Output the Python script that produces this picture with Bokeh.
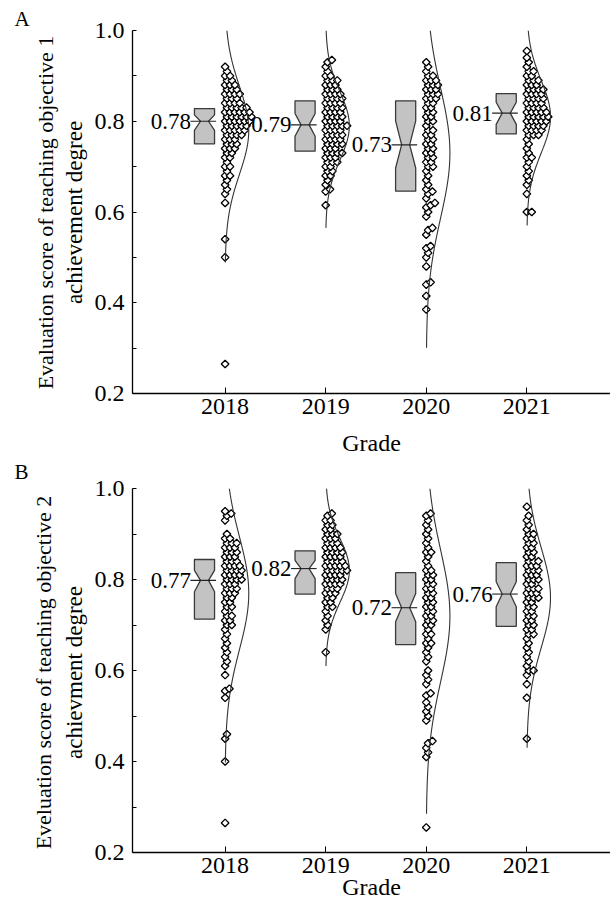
import numpy as np
from bokeh.plotting import figure
from bokeh.models import FixedTicker, Range1d, ColumnDataSource
from bokeh.layouts import column, row
from bokeh.embed import file_html
from bokeh.resources import INLINE
from bokeh.core.properties import value

# ---------------- data ----------------
grades = ["2018", "2019", "2020", "2021"]
grade_pos = [1, 2, 3, 4]

# Panel A: teaching objective 1
a_2018 = [0.265, 0.50, 0.54, 0.62, 0.64, 0.65, 0.66, 0.67, 0.68, 0.68, 0.69, 0.70, 0.70, 0.71, 0.72, 0.72,
          0.73, 0.73, 0.74, 0.74, 0.74, 0.75, 0.75, 0.75, 0.76, 0.76, 0.76, 0.77, 0.77, 0.77, 0.77, 0.78,
          0.78, 0.78, 0.78, 0.78, 0.79, 0.79, 0.79, 0.79, 0.79, 0.80, 0.80, 0.80, 0.80, 0.80, 0.80, 0.81,
          0.81, 0.81, 0.81, 0.81, 0.81, 0.82, 0.82, 0.82, 0.82, 0.82, 0.82, 0.83, 0.83, 0.83, 0.83, 0.83,
          0.84, 0.84, 0.84, 0.84, 0.85, 0.85, 0.85, 0.86, 0.86, 0.86, 0.86, 0.87, 0.87, 0.87, 0.88, 0.88,
          0.88, 0.89, 0.89, 0.90, 0.90, 0.91, 0.92]
a_2019 = [0.615, 0.645, 0.65, 0.66, 0.67, 0.68, 0.68, 0.69, 0.69, 0.70, 0.70, 0.71, 0.71, 0.71, 0.72, 0.72,
          0.72, 0.73, 0.73, 0.73, 0.73, 0.74, 0.74, 0.74, 0.75, 0.75, 0.75, 0.75, 0.76, 0.76, 0.76, 0.76,
          0.77, 0.77, 0.77, 0.77, 0.78, 0.78, 0.78, 0.78, 0.79, 0.79, 0.79, 0.79, 0.79, 0.80, 0.80, 0.80,
          0.80, 0.81, 0.81, 0.81, 0.81, 0.82, 0.82, 0.82, 0.82, 0.83, 0.83, 0.83, 0.83, 0.84, 0.84, 0.84,
          0.84, 0.85, 0.85, 0.85, 0.85, 0.86, 0.86, 0.86, 0.86, 0.87, 0.87, 0.87, 0.88, 0.88, 0.88, 0.89,
          0.89, 0.89, 0.90, 0.90, 0.91, 0.92, 0.93, 0.935]
a_2020 = [0.385, 0.415, 0.44, 0.445, 0.48, 0.50, 0.51, 0.52, 0.525, 0.55, 0.56, 0.565, 0.59, 0.60, 0.61,
          0.615, 0.62, 0.63, 0.64, 0.645, 0.65, 0.66, 0.67, 0.68, 0.69, 0.70, 0.70, 0.71, 0.71, 0.72, 0.72,
          0.73, 0.73, 0.74, 0.74, 0.75, 0.75, 0.76, 0.76, 0.77, 0.77, 0.78, 0.78, 0.79, 0.80, 0.80, 0.81,
          0.81, 0.82, 0.82, 0.83, 0.83, 0.84, 0.84, 0.85, 0.85, 0.85, 0.86, 0.86, 0.86, 0.87, 0.87, 0.87,
          0.88, 0.88, 0.88, 0.89, 0.89, 0.89, 0.90, 0.90, 0.91, 0.92, 0.93]
a_2021 = [0.60, 0.60, 0.64, 0.66, 0.67, 0.68, 0.69, 0.70, 0.71, 0.72, 0.72, 0.73, 0.74, 0.75, 0.76, 0.77,
          0.77, 0.77, 0.78, 0.78, 0.78, 0.78, 0.79, 0.79, 0.79, 0.79, 0.80, 0.80, 0.80, 0.80, 0.80, 0.81,
          0.81, 0.81, 0.81, 0.81, 0.82, 0.82, 0.82, 0.82, 0.82, 0.83, 0.83, 0.83, 0.83, 0.84, 0.84, 0.84,
          0.84, 0.85, 0.85, 0.85, 0.85, 0.86, 0.86, 0.86, 0.86, 0.87, 0.87, 0.87, 0.87, 0.88, 0.88, 0.88,
          0.89, 0.89, 0.89, 0.90, 0.90, 0.91, 0.91, 0.92, 0.93, 0.94, 0.955]
a_q1 = [0.750, 0.734, 0.646, 0.772]
a_median = [0.800, 0.792, 0.748, 0.818]
a_q3 = [0.828, 0.845, 0.845, 0.861]
a_notch_lo = [0.780, 0.767, 0.697, 0.793]
a_notch_hi = [0.814, 0.817, 0.801, 0.842]
a_mean = [0.78, 0.79, 0.73, 0.81]
a_sd = [0.097, 0.075, 0.143, 0.080]

# Panel B: teaching objective 2
b_2018 = [0.265, 0.40, 0.45, 0.46, 0.54, 0.555, 0.56, 0.59, 0.61, 0.62, 0.63, 0.64, 0.65, 0.66, 0.67, 0.68,
          0.69, 0.70, 0.70, 0.71, 0.71, 0.72, 0.72, 0.73, 0.74, 0.74, 0.75, 0.75, 0.76, 0.76, 0.77, 0.77,
          0.77, 0.78, 0.78, 0.78, 0.79, 0.79, 0.79, 0.80, 0.80, 0.80, 0.80, 0.81, 0.81, 0.81, 0.81, 0.82,
          0.82, 0.82, 0.82, 0.83, 0.83, 0.83, 0.83, 0.84, 0.84, 0.84, 0.85, 0.85, 0.85, 0.86, 0.86, 0.86,
          0.87, 0.87, 0.87, 0.88, 0.88, 0.88, 0.89, 0.89, 0.90, 0.93, 0.94, 0.945, 0.95]
b_2019 = [0.64, 0.69, 0.70, 0.71, 0.72, 0.73, 0.74, 0.74, 0.75, 0.75, 0.76, 0.76, 0.77, 0.77, 0.77, 0.78,
          0.78, 0.78, 0.79, 0.79, 0.79, 0.79, 0.80, 0.80, 0.80, 0.80, 0.81, 0.81, 0.81, 0.81, 0.82, 0.82,
          0.82, 0.82, 0.82, 0.83, 0.83, 0.83, 0.83, 0.83, 0.84, 0.84, 0.84, 0.84, 0.85, 0.85, 0.85, 0.85,
          0.86, 0.86, 0.86, 0.86, 0.87, 0.87, 0.87, 0.87, 0.88, 0.88, 0.88, 0.89, 0.89, 0.89, 0.90, 0.90,
          0.90, 0.91, 0.91, 0.92, 0.92, 0.93, 0.93, 0.94, 0.945]
b_2020 = [0.255, 0.41, 0.42, 0.43, 0.44, 0.445, 0.49, 0.50, 0.51, 0.52, 0.53, 0.545, 0.55, 0.57, 0.58, 0.59,
          0.60, 0.62, 0.63, 0.64, 0.65, 0.66, 0.66, 0.67, 0.68, 0.68, 0.69, 0.70, 0.70, 0.71, 0.71, 0.72,
          0.72, 0.73, 0.73, 0.74, 0.74, 0.75, 0.75, 0.76, 0.76, 0.77, 0.77, 0.78, 0.78, 0.79, 0.79, 0.80,
          0.80, 0.81, 0.81, 0.82, 0.82, 0.83, 0.84, 0.85, 0.86, 0.86, 0.87, 0.88, 0.89, 0.90, 0.91, 0.92,
          0.93, 0.94, 0.945]
b_2021 = [0.45, 0.54, 0.57, 0.59, 0.60, 0.60, 0.61, 0.62, 0.63, 0.64, 0.65, 0.66, 0.67, 0.68, 0.68, 0.69,
          0.69, 0.70, 0.70, 0.71, 0.71, 0.72, 0.72, 0.73, 0.73, 0.74, 0.74, 0.75, 0.75, 0.76, 0.76, 0.76,
          0.77, 0.77, 0.77, 0.78, 0.78, 0.78, 0.79, 0.79, 0.80, 0.80, 0.80, 0.81, 0.81, 0.81, 0.82, 0.82,
          0.82, 0.83, 0.83, 0.83, 0.84, 0.84, 0.84, 0.85, 0.85, 0.86, 0.86, 0.87, 0.87, 0.88, 0.88, 0.89,
          0.89, 0.90, 0.90, 0.91, 0.92, 0.93, 0.94, 0.96]
b_q1 = [0.713, 0.768, 0.657, 0.697]
b_median = [0.798, 0.824, 0.738, 0.768]
b_q3 = [0.844, 0.863, 0.815, 0.837]
b_notch_lo = [0.773, 0.802, 0.707, 0.740]
b_notch_hi = [0.820, 0.842, 0.769, 0.795]
b_mean = [0.77, 0.82, 0.72, 0.76]
b_sd = [0.124, 0.070, 0.145, 0.110]

y_major = [0.2, 0.4, 0.6, 0.8, 1.0]
y_minor = [0.3, 0.5, 0.7, 0.9]

FONT = "Liberation Serif"
LEFT_W = 91            # strip holding the panel letter and the two-line y title
AXIS_W = 39            # space for the y tick labels
MAIN_W = 519
FRAME_W = MAIN_W - AXIS_W
X0 = 1 - 93 / 101.0
X1 = X0 + FRAME_W / 101.0


def swarm_offsets(vals, px_x, px_y, d):
    vals = np.asarray(vals, dtype=float)
    order = np.argsort(vals, kind="stable")
    placed = []
    xs = np.zeros(len(vals))
    for i in order:
        y = vals[i] * px_y
        near = [(px, py) for px, py in placed if abs(py - y) < d]
        cands = [0.0]
        for px, py in near:
            dx = np.sqrt(d * d - (py - y) ** 2)
            cands.append(px + dx)
            if px - dx >= 0:
                cands.append(px - dx)
        for c in sorted(cands):
            if all((c - px) ** 2 + (y - py) ** 2 >= d * d - 1e-6 for px, py in near):
                xs[i] = c
                break
        placed.append((xs[i], y))
    return xs / px_x


def side_strip(letter, title1, title2, height, border_top, frame_h, letter_standoff, ymid, x1, x2):
    """Narrow figure whose frame matches the panel frame (pixel units): letter + y title."""
    s = figure(width=LEFT_W, height=height, output_backend="svg", toolbar_location=None,
               x_range=Range1d(0, LEFT_W), y_range=Range1d(0, frame_h),
               x_axis_type=None, y_axis_type=None, title=letter,
               min_border_left=0, min_border_right=0, min_border_top=border_top,
               min_border_bottom=height - border_top - frame_h)
    s.outline_line_color = None
    s.grid.visible = False
    s.background_fill_color = None
    s.border_fill_color = None
    s.title.align = "left"
    s.title.offset = 14
    s.title.standoff = letter_standoff
    s.title.vertical_align = "bottom"
    s.title.text_font = FONT
    s.title.text_font_size = "21px"
    s.title.text_font_style = "normal"
    s.title.text_color = "black"
    s.text(x=[x1], y=[ymid], text=[title1],
           angle=np.pi / 2, text_align="center", text_baseline="middle",
           text_font=value(FONT), text_font_size="22px", text_color="black")
    s.text(x=[x2], y=[ymid], text=[title2],
           angle=np.pi / 2, text_align="center", text_baseline="middle",
           text_font=value(FONT), text_font_size="23px", text_color="black")
    return s


def build(groups, q1, med, q3, nlo, nhi, means, sds, height, border_top, frame_h, xlabel_standoff):
    p = figure(width=MAIN_W, height=height, output_backend="svg", toolbar_location=None,
               x_range=Range1d(X0, X1), y_range=Range1d(0.2, 1.0), title=None,
               min_border_left=AXIS_W, min_border_right=0,
               min_border_top=border_top, min_border_bottom=height - border_top - frame_h)
    p.outline_line_color = None
    p.grid.visible = False
    p.background_fill_color = "white"
    p.border_fill_color = None

    px_x = FRAME_W / (X1 - X0)
    px_y = frame_h / 0.8

    # axes
    p.xaxis.ticker = FixedTicker(ticks=grade_pos, minor_ticks=[])
    p.xaxis.major_label_overrides = {g: t for g, t in zip(grade_pos, grades)}
    p.yaxis.ticker = FixedTicker(ticks=y_major, minor_ticks=y_minor)
    p.yaxis.major_label_overrides = {v: f"{v:.1f}" for v in y_major}
    for ax in (p.xaxis[0], p.yaxis[0]):
        ax.axis_line_color = "black"
        ax.axis_line_width = 1.3
        ax.major_tick_line_color = "black"
        ax.minor_tick_line_color = "black"
        ax.major_tick_out = 0
        ax.minor_tick_out = 0
        ax.major_label_text_font = FONT
        ax.major_label_text_font_size = "24px"
        ax.major_label_text_color = "black"
        ax.axis_label_text_font = FONT
        ax.axis_label_text_font_size = "24px"
        ax.axis_label_text_font_style = "normal"
        ax.axis_label_text_color = "black"
    p.xaxis.major_tick_in = 6
    p.yaxis.major_tick_in = 4
    p.yaxis.minor_tick_in = 4
    p.xaxis.major_label_standoff = 5
    p.yaxis.major_label_standoff = 8
    p.xaxis.axis_label = "Grade"
    p.xaxis.axis_label_standoff = xlabel_standoff

    # notched boxes
    hw, inset, off = 0.1, 0.06, 0.205
    xs_list, ys_list = [], []
    for i, c0 in enumerate(grade_pos):
        c = c0 - off
        l, r = c - hw, c + hw
        xs_list.append([l, r, r, r - inset, r, r, l, l, l + inset, l])
        ys_list.append([q1[i], q1[i], nlo[i], med[i], nhi[i], q3[i], q3[i], nhi[i], med[i], nlo[i]])
    p.patches(xs_list, ys_list, fill_color="#c3c3c3", line_color="#3a3a3a", line_width=1.3)
    bx = [c - off for c in grade_pos]
    p.segment(x0=[b - hw - 0.04 for b in bx], x1=[b + hw + 0.015 for b in bx], y0=med, y1=med,
              line_color="#222222", line_width=1.1)
    p.text(x=[b - hw - 0.035 for b in bx], y=med, text=[f"{m:.2f}" for m in means],
           text_align="right", text_baseline="middle", text_font=value(FONT),
           text_font_size="23px", text_color="black")

    # swarm points
    for g, vals in zip(grade_pos, groups):
        offs = swarm_offsets(vals, px_x, px_y, 4.9)
        src = ColumnDataSource(dict(x=g + offs, y=vals))
        p.scatter("x", "y", source=src, marker="square", angle=np.pi / 4, size=5.4,
                  fill_color="white", line_color="black", line_width=1.3)

    # normal curves
    for g, mu, sd in zip(grade_pos, means, sds):
        ys = np.linspace(max(mu - 3 * sd, 0.2), min(mu + 3 * sd, 1.0), 200)
        xs = g + 0.235 * np.exp(-((ys - mu) ** 2) / (2 * sd ** 2))
        p.line(xs, ys, line_color="#333333", line_width=1.1)
    return p


H_A, H_B = 465, 457
sA = side_strip("A", "Evaluation score of teaching objective 1", "achievement degree",
                H_A, 30, 363, letter_standoff=0, ymid=181, x1=45, x2=74)
pA = build([a_2018, a_2019, a_2020, a_2021], a_q1, a_median, a_q3, a_notch_lo, a_notch_hi,
           a_mean, a_sd, height=H_A, border_top=30, frame_h=363, xlabel_standoff=13)
sB = side_strip("B", "Eveluation score of teaching objective 2", "achievment degree",
                H_B, 36, 364, letter_standoff=10, ymid=180, x1=43, x2=74)
pB = build([b_2018, b_2019, b_2020, b_2021], b_q1, b_median, b_q3, b_notch_lo, b_notch_hi,
           b_mean, b_sd, height=H_B, border_top=36, frame_h=364, xlabel_standoff=-2)

rowA = row(sA, pA, spacing=0)
rowB = row(sB, pB, spacing=0)
rowB.margin = (-13, 0, 0, 0)
layout = column(rowA, rowB, spacing=0)
open("out.html", "w").write(file_html(layout, INLINE))
